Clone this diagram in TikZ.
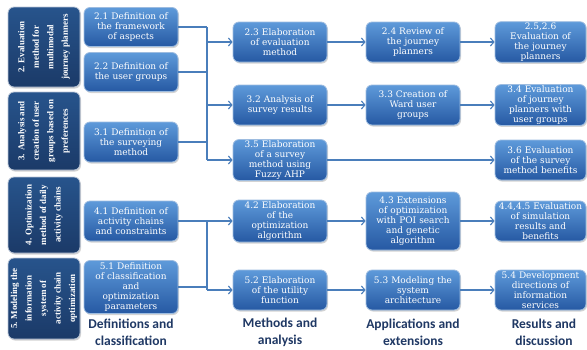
\documentclass[tikz,border=0pt]{standalone}
\usepackage{fontspec}
\setmainfont{Liberation Serif}
\newfontfamily\boxfont{DejaVu Serif}
\newfontfamily\labfont{Carlito}
\usetikzlibrary{arrows.meta,shadows}
\definecolor{btop}{HTML}{5E9ADA}
\definecolor{bbot}{HTML}{2659A3}
\definecolor{bline}{HTML}{9DBCE0}
\definecolor{ltop}{HTML}{27548C}
\definecolor{lbot}{HTML}{1B3A68}
\definecolor{lline}{HTML}{B8C4D6}
\definecolor{conn}{HTML}{4A7EBB}
\definecolor{labc}{HTML}{1F3864}
\begin{document}
\begin{tikzpicture}[x=1pt,y=-1pt,
  bbox/.style={rounded corners=6pt, top color=btop, bottom color=bbot, draw=bline, line width=0.8pt,
    text=white, align=center, font=\boxfont\fontsize{9}{10}\selectfont, inner sep=1pt,
    text width=92pt, minimum height=40pt,
    drop shadow={shadow xshift=1pt, shadow yshift=-1.5pt, opacity=0.35}},
  rbox/.style={bbox, text width=89pt},
  lbox/.style={rounded corners=6pt, top color=ltop, bottom color=lbot, draw=lline, line width=0.8pt,
    text=white, inner sep=0pt, minimum width=72pt,
    drop shadow={shadow xshift=1pt, shadow yshift=-1.5pt, opacity=0.35}},
  ltext/.style={text=white, font=\bfseries\fontsize{9}{14.5}\selectfont, align=center, rotate=90, inner sep=0pt},
  conline/.style={draw=conn, line width=1.2pt},
  arr/.style={conline, -{Straight Barb[length=3.5pt,width=8pt,line width=1.1pt]}},
  lab/.style={text=labc, font=\labfont\bfseries\fontsize{13.5}{17}\selectfont, align=center, inner sep=0pt}
]
\useasboundingbox (0,0) rectangle (587,349);

% left boxes
\node[lbox, minimum height=80pt] (L1) at (44,47) {};
\node[ltext] (L1t) at (L1) {2. Evaluation\\method for\\multimodal\\journey planners};
\node[lbox, minimum height=78pt] (L2) at (44,131) {};
\node[ltext] (L2t) at (L2) {3. Analysis and\\creation of user\\groups based on\\preferences};
\node[lbox, minimum height=76pt] (L3) at (44,215) {};
\node[ltext] (L3t) at (L3) {4. Optimization\\method of daily\\activity chains};
\node[lbox, minimum height=81pt] (L4) at (44,298.5) {};
\node[ltext] (L4t) at (L4) {5. Modeling the\\information\\system of\\activity chain\\optimization};

% column 1
\node[bbox, minimum height=39pt] (n21) at (131,27) {2.1 Definition of\\the framework\\of aspects};
\node[bbox, minimum height=39pt] (n22) at (131,72) {2.2 Definition of\\the user groups};
\node[bbox] (n31) at (131,142) {3.1 Definition of\\the surveying\\method};
\node[bbox] (n41) at (131,221) {4.1 Definition of\\activity chains\\and constraints};
\node[bbox, minimum height=53pt] (n51) at (131,287) {5.1 Definition\\of classification\\and\\optimization\\parameters};

% column 2
\node[bbox] (n23) at (280,42) {2.3 Elaboration\\of evaluation\\method};
\node[bbox] (n32) at (280,105) {3.2 Analysis of\\survey results};
\node[bbox] (n35) at (280,160) {3.5 Elaboration\\of a survey\\method using\\Fuzzy AHP};
\node[bbox, minimum height=42pt] (n42) at (280,221) {4.2 Elaboration\\of the\\optimization\\algorithm};
\node[bbox] (n52) at (280,290) {5.2 Elaboration\\of the utility\\function};

% column 3
\node[bbox] (n24) at (413,42) {2.4 Review of\\the journey\\planners};
\node[bbox] (n33) at (413,105) {3.3 Creation of\\Ward user\\groups};
\node[bbox, minimum height=58pt] (n43) at (413,221) {4.3 Extensions\\of optimization\\with POI search\\and genetic\\algorithm};
\node[bbox] (n53) at (413,290) {5.3 Modeling the\\system\\architecture};

% column 4
\node[rbox] (n25) at (540.5,42) {2.5,2.6\\Evaluation of\\the journey\\planners};
\node[rbox] (n34) at (540.5,105) {3.4 Evaluation\\of journey\\planners with\\user groups};
\node[rbox] (n36) at (540.5,160) {3.6 Evaluation\\of the survey\\method benefits};
\node[rbox] (n44) at (540.5,221) {4.4,4.5 Evaluation\\of simulation\\results and\\benefits};
\node[rbox] (n54) at (540.5,290) {5.4 Development\\directions of\\information\\services};

% bus coordinate
\coordinate (bus) at (207,0);

% upper bus
\draw[conline] (n21.east) -- (n21.east -| bus);
\draw[conline] (n22.east) -- (n22.east -| bus);
\draw[conline] (n31.east) -- (n31.east -| bus);
\draw[conline] (n21.east -| bus) -- (n35.west -| bus);
\draw[arr] (n23.west -| bus) -- (n23.west);
\draw[arr] (n32.west -| bus) -- (n32.west);
\draw[arr] (n35.west -| bus) -- (n35.west);

% lower bus
\draw[conline] (n41.east) -- (n41.east -| bus);
\draw[conline] (n51.east) -- (n51.east -| bus);
\draw[conline] (n42.west -| bus) -- (n52.west -| bus);
\draw[arr] (n42.west -| bus) -- (n42.west);
\draw[arr] (n52.west -| bus) -- (n52.west);

% row arrows
\draw[arr] (n23) -- (n24);
\draw[arr] (n24) -- (n25);
\draw[arr] (n32) -- (n33);
\draw[arr] (n33) -- (n34);
\draw[arr] (n35) -- (n36);
\draw[arr] (n42) -- (n43);
\draw[arr] (n43) -- (n44);
\draw[arr] (n52) -- (n53);
\draw[arr] (n53) -- (n54);

% bottom labels
\node[lab] (c1) at (131,332) {Definitions and\\classification};
\node[lab] (c2) at (280,332) {Methods and\\analysis};
\node[lab] (c3) at (413,332) {Applications and\\extensions};
\node[lab] (c4) at (544,332) {Results and\\discussion};
\end{tikzpicture}
\end{document}
